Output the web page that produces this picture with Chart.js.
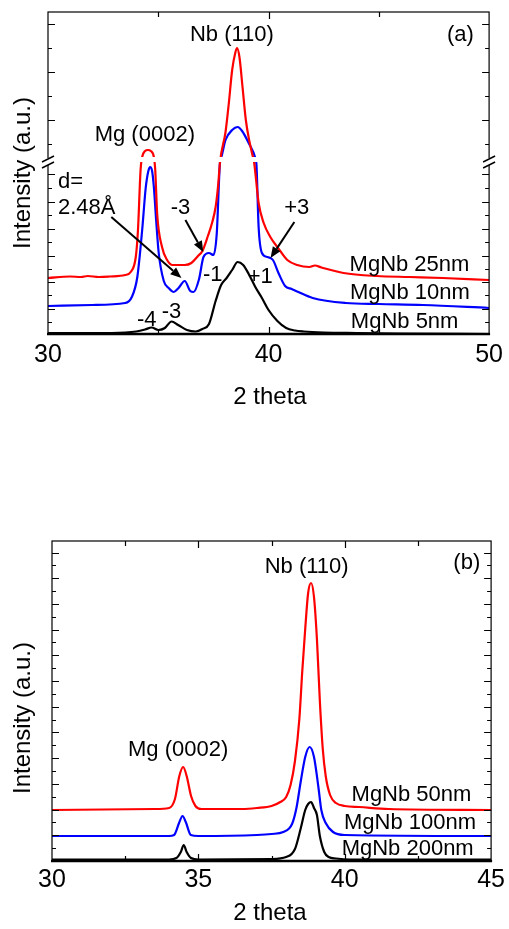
<!DOCTYPE html>
<html>
<head>
<meta charset="utf-8">
<script src="https://cdn.jsdelivr.net/npm/chart.js@4.4.1/dist/chart.umd.min.js"></script>
<style>
  body { margin: 0; background: #fff; }
  canvas { position: absolute; left: 0; }
</style>
</head>
<body>
<canvas id="chartA" width="509" height="430" style="top:0px"></canvas>
<canvas id="chartB" width="509" height="409" style="top:520px"></canvas>
<script>
// ---- panel (a): 2 theta and intensity (a.u., plotted on the broken axis) ----
const a5nmX = [30, 32, 33.5, 34.0, 34.4, 34.7, 35.0, 35.3, 35.6, 35.9, 36.3, 36.7, 37.0, 37.3, 37.6, 37.85, 38.1, 38.35, 38.6, 38.85, 39.1, 39.4, 39.7, 40.0, 40.4, 40.8, 41.2, 41.6, 42.5, 44, 46, 50];
const a5nmY = [1, 1, 1.5, 2.5, 4.5, 6.5, 4, 6, 12.5, 9, 4, 2.5, 5, 10, 33, 49, 56, 64, 72, 69, 60, 47, 36, 24, 13, 6, 3.5, 2.5, 1.5, 1, 0.5, 0];

const a10nmX = [30, 32, 33.5, 33.8, 34.05, 34.27, 34.43, 34.55, 34.63, 34.72, 34.8, 34.9, 35.02, 35.25, 35.47, 35.7, 35.92, 36.2, 36.45, 36.6, 36.85, 37.05, 37.3, 37.5, 37.65, 37.8, 37.85, 38.05, 38.35, 38.6, 38.8, 39.1, 39.4, 39.45, 39.55, 39.7, 39.95, 40.2, 40.45, 40.75, 41.05, 41.35, 42, 43.5, 45, 47, 50];
const a10nmY = [28, 29, 31, 37, 57, 104, 146, 163, 167, 163, 147, 115, 81, 53, 46, 42, 46, 53, 43, 42, 55, 77, 81, 79, 100, 172, 176, 194, 204, 207, 203, 191, 176, 170, 107, 81, 77, 74, 61, 48, 45, 42, 36, 31, 30, 29, 26];

const a25nmX = [30, 31, 31.5, 31.8, 32.3, 32.8, 33.5, 33.75, 33.98, 34.08, 34.2, 34.27, 34.4, 34.53, 34.66, 34.8, 34.86, 34.95, 35.17, 35.4, 35.65, 36.2, 36.5, 36.8, 37.0, 37.25, 37.45, 37.6, 37.72, 37.8, 38.05, 38.2, 38.35, 38.5, 38.57, 38.68, 38.82, 38.97, 39.12, 39.27, 39.35, 39.55, 39.78, 40.08, 40.4, 40.85, 41.3, 41.85, 42.1, 42.4, 43.4, 44.9, 46.4, 47.9, 50];
const a25nmY = [56, 57.5, 57, 58, 57, 57.5, 59, 62, 77, 104, 165, 177, 183, 184, 183, 177, 165, 120, 87, 74, 69, 69, 71, 78, 83, 98, 112, 127, 150, 172, 202, 231, 264, 282, 286, 277, 247, 214, 194, 179, 171, 131, 111, 97, 87, 74, 69, 67, 68.5, 66.5, 61, 58, 57, 56, 54];

// ---- panel (b) ----
const b200nmX = [30, 34.0, 34.25, 34.4, 34.5, 34.6, 34.75, 35.0, 37.5, 38.0, 38.3, 38.5, 38.65, 38.75, 38.85, 38.95, 39.05, 39.15, 39.3, 39.45, 39.7, 40.2, 45];
const b200nmY = [1.5, 1.5, 3, 9, 16, 9, 3, 1.5, 2, 4, 12, 33, 51, 57, 59, 53, 46, 25, 9, 4, 2.5, 1.5, 1.5];

const b100nmX = [30, 34.0, 34.17, 34.34, 34.46, 34.57, 34.74, 35.0, 37.0, 37.5, 37.9, 38.2, 38.35, 38.5, 38.65, 38.8, 38.95, 39.1, 39.2, 39.35, 39.6, 40.0, 45];
const b100nmY = [25, 25, 26, 38, 45, 39, 26, 25, 26, 27, 29, 37, 53, 80, 104, 114, 104, 74, 51, 38, 29, 26, 25];

const b50nmX = [30, 33.5, 34.0, 34.2, 34.35, 34.48, 34.6, 34.75, 34.9, 35.1, 36.5, 37.0, 37.5, 37.8, 38.0, 38.15, 38.3, 38.45, 38.55, 38.65, 38.75, 38.85, 38.95, 39.05, 39.15, 39.25, 39.35, 39.5, 39.7, 40.0, 40.5, 41.5, 45];
const b50nmY = [51, 52, 53, 62, 85, 94, 85, 65, 55, 52, 52, 53, 55, 59, 64, 76, 100, 142, 190, 232, 268, 278, 264, 222, 160, 112, 85, 66, 58, 55, 54, 52, 51];

// unlabeled y ticks (a.u.)
const yTicksA = [12, 25, 39, 52, 65, 78, 92, 105, 119, 132, 146, 160, 190, 214, 238, 262, 286, 310];
const yTicksB = [13, 26, 39, 51, 64, 77, 90, 103, 116, 129, 141, 154, 167, 180, 193, 206, 219, 231, 244, 257, 270, 283, 296, 308];

const FONT = "'Liberation Sans', Arial, sans-serif";
Chart.defaults.font.family = FONT;

function toPoints(xs, ys) {
  return xs.map((x, i) => ({ x: x, y: ys[i] }));
}

function line(label, xs, ys, color) {
  return {
    label: label,
    data: toPoints(xs, ys),
    borderColor: color,
    borderWidth: 2.2,
    pointRadius: 0,
    fill: false,
    cubicInterpolationMode: 'monotone'
  };
}

function arrow(ctx, x1, y1, x2, y2) {
  const ang = Math.atan2(y2 - y1, x2 - x1), L = 11, W = 4.5;
  const bx = x2 - L * Math.cos(ang), by = y2 - L * Math.sin(ang);
  ctx.lineWidth = 2;
  ctx.beginPath();
  ctx.moveTo(x1, y1);
  ctx.lineTo(bx, by);
  ctx.stroke();
  ctx.beginPath();
  ctx.moveTo(x2, y2);
  ctx.lineTo(bx + W * Math.sin(ang), by - W * Math.cos(ang));
  ctx.lineTo(bx - W * Math.sin(ang), by + W * Math.cos(ang));
  ctx.closePath();
  ctx.fill();
}

// frame, inward ticks, axis break, notes and titles
function makeDecor(cfg) {
  return {
    id: 'decor',
    afterDatasetsDraw(chart) {
      const ctx = chart.ctx, a = chart.chartArea;
      const xs = chart.scales.x, ys = chart.scales.y;
      ctx.save();

      if (cfg.gap) {
        const g1 = ys.getPixelForValue(cfg.gap[1]), g0 = ys.getPixelForValue(cfg.gap[0]);
        ctx.fillStyle = '#fff';
        ctx.fillRect(a.left, g1, a.width, g0 - g1);
      }

      ctx.strokeStyle = '#000';
      ctx.fillStyle = '#000';
      ctx.lineWidth = 1.2;
      ctx.strokeRect(a.left, a.top, a.width, a.height);
      ctx.lineWidth = 2.5;
      ctx.beginPath();
      ctx.moveTo(a.left - 1, a.bottom);
      ctx.lineTo(a.right + 1, a.bottom);
      ctx.stroke();

      ctx.lineWidth = 1.2;
      xs.ticks.forEach(t => {
        if (t.value <= xs.min || t.value >= xs.max) return;
        const px = Math.round(xs.getPixelForValue(t.value)) + 0.5;
        const len = t.value % cfg.xMajor === 0 ? 7 : 5;
        ctx.beginPath();
        ctx.moveTo(px, a.bottom);
        ctx.lineTo(px, a.bottom - len);
        ctx.moveTo(px, a.top);
        ctx.lineTo(px, a.top + len);
        ctx.stroke();
      });
      ys.ticks.forEach((t, i) => {
        const py = Math.round(ys.getPixelForValue(t.value)) + 0.5;
        const len = i % 2 ? 7 : 4;
        ctx.beginPath();
        ctx.moveTo(a.left, py);
        ctx.lineTo(a.left + len, py);
        ctx.moveTo(a.right, py);
        ctx.lineTo(a.right - len, py);
        ctx.stroke();
      });

      if (cfg.gap) {
        const g1 = ys.getPixelForValue(cfg.gap[1]), g0 = ys.getPixelForValue(cfg.gap[0]);
        [a.left, a.right].forEach(ex => {
          ctx.fillStyle = '#fff';
          ctx.fillRect(ex - 2, g1 + 1, 4, g0 - g1 + 2);
          ctx.fillStyle = '#000';
          ctx.lineWidth = 1.4;
          ctx.beginPath();
          ctx.moveTo(ex - 6, g1 + 5);
          ctx.lineTo(ex + 6, g1 - 1);
          ctx.moveTo(ex - 6, g0 + 6);
          ctx.lineTo(ex + 6, g0);
          ctx.stroke();
        });
      }

      ctx.fillStyle = '#000';
      ctx.textBaseline = 'middle';
      ctx.font = '22px ' + FONT;
      cfg.notes.forEach(n => {
        ctx.textAlign = n.align || 'center';
        ctx.fillText(n.text, xs.getPixelForValue(n.x), ys.getPixelForValue(n.y));
      });
      cfg.arrows.forEach(r => {
        arrow(ctx, xs.getPixelForValue(r[0]), ys.getPixelForValue(r[1]),
                   xs.getPixelForValue(r[2]), ys.getPixelForValue(r[3]));
      });

      ctx.font = '24px ' + FONT;
      ctx.textAlign = 'center';
      ctx.fillText('2 theta', cfg.xTitle[0], cfg.xTitle[1]);
      ctx.translate(cfg.yTitle[0], cfg.yTitle[1]);
      ctx.rotate(-Math.PI / 2);
      ctx.fillText('Intensity (a.u.)', 0, 0);
      ctx.restore();
    }
  };
}

function buildOptions(cfg) {
  return {
    responsive: false,
    animation: false,
    layout: { padding: cfg.pad },
    plugins: { legend: { display: false }, tooltip: { enabled: false } },
    scales: {
      x: {
        type: 'linear',
        min: cfg.xMin,
        max: cfg.xMax,
        grid: { display: false, drawTicks: false },
        border: { display: false },
        ticks: {
          stepSize: cfg.xStep,
          autoSkip: false,
          maxRotation: 0,
          padding: cfg.xPad,
          color: '#000',
          font: { size: 25 },
          callback: v => (v % cfg.xMajor === 0 ? v : '')
        },
        afterFit: s => { s.height = cfg.xH; }
      },
      y: {
        min: 0,
        max: cfg.yMax,
        grid: { display: false, drawTicks: false },
        border: { display: false },
        ticks: { display: false },
        afterBuildTicks: s => { s.ticks = cfg.yTicks.map(v => ({ value: v })); },
        afterFit: s => { s.width = cfg.yW; }
      }
    }
  };
}

const cfgA = {
  pad: { top: 12, right: 15, left: 0, bottom: 0 },
  xMin: 30, xMax: 50, xStep: 5, xMajor: 10, xPad: 6, xH: 96,
  yMax: 322, yW: 48, yTicks: yTicksA,
  gap: [172, 177],
  xTitle: [270, 397], yTitle: [23, 173],
  notes: [
    { text: 'Nb (110)', x: 38.34, y: 299 },
    { text: '(a)', x: 48.7, y: 299 },
    { text: 'Mg (0002)', x: 34.39, y: 199 },
    { text: 'd=', x: 30.45, y: 152, align: 'left' },
    { text: '2.48Å', x: 30.45, y: 126, align: 'left' },
    { text: '-3', x: 36.01, y: 126 },
    { text: '+3', x: 41.28, y: 126 },
    { text: '-1', x: 37.47, y: 59 },
    { text: '+1', x: 39.62, y: 57 },
    { text: '-4', x: 34.48, y: 14 },
    { text: '-3', x: 35.6, y: 22 },
    { text: 'MgNb 25nm', x: 46.39, y: 69 },
    { text: 'MgNb 10nm', x: 46.41, y: 41 },
    { text: 'MgNb 5nm', x: 46.17, y: 12 }
  ],
  arrows: [
    [32.87, 117, 36.05, 56],
    [36.23, 114, 37.04, 82],
    [41.17, 112, 40.09, 76]
  ]
};

const cfgB = {
  pad: { top: 21, right: 15, left: 0, bottom: 0 },
  xMin: 30, xMax: 45, xStep: 2.5, xMajor: 5, xPad: 4, xH: 68,
  yMax: 320, yW: 52, yTicks: yTicksB,
  gap: null,
  xTitle: [270, 393], yTitle: [23, 198],
  notes: [
    { text: 'Nb (110)', x: 38.7, y: 294 },
    { text: '(b)', x: 44.17, y: 298 },
    { text: 'Mg (0002)', x: 34.31, y: 111 },
    { text: 'MgNb 50nm', x: 42.28, y: 66 },
    { text: 'MgNb 100nm', x: 42.23, y: 38 },
    { text: 'MgNb 200nm', x: 42.15, y: 12 }
  ],
  arrows: []
};

new Chart(document.getElementById('chartA'), {
  type: 'line',
  data: {
    datasets: [
      line('MgNb 25nm', a25nmX, a25nmY, '#ff0000'),
      line('MgNb 10nm', a10nmX, a10nmY, '#0000ff'),
      line('MgNb 5nm', a5nmX, a5nmY, '#000000')
    ]
  },
  options: buildOptions(cfgA),
  plugins: [makeDecor(cfgA)]
});

new Chart(document.getElementById('chartB'), {
  type: 'line',
  data: {
    datasets: [
      line('MgNb 50nm', b50nmX, b50nmY, '#ff0000'),
      line('MgNb 100nm', b100nmX, b100nmY, '#0000ff'),
      line('MgNb 200nm', b200nmX, b200nmY, '#000000')
    ]
  },
  options: buildOptions(cfgB),
  plugins: [makeDecor(cfgB)]
});
</script>
</body>
</html>
